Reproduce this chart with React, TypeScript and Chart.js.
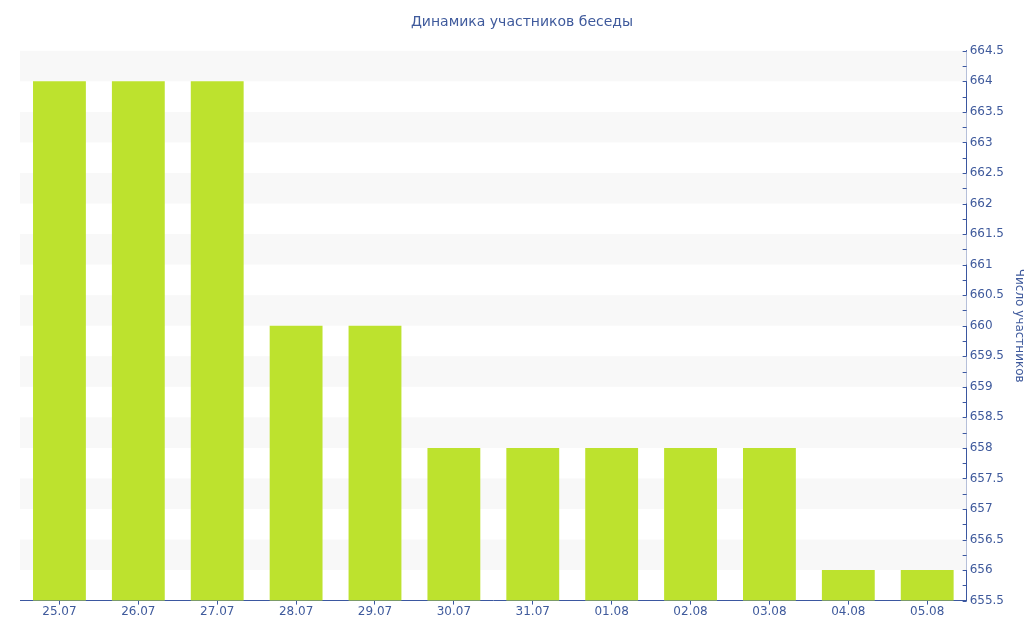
import { useRef, useEffect } from "react";
import { Chart, registerables } from "chart.js";

Chart.register(...registerables);

const dates = ["25.07", "26.07", "27.07", "28.07", "29.07", "30.07", "31.07", "01.08", "02.08", "03.08", "04.08", "05.08"];
const members = [664, 664, 664, 660, 660, 658, 658, 658, 658, 658, 656, 656];

const axisColor = "#3b57a0";
const textColor = "#3f5a9c";
const barColor = "#bde22e";

// alternating grey bands + inner ticks on the y axis
const bandsPlugin = {
  id: "bands",
  beforeDatasetsDraw(chart: any) {
    const { ctx, chartArea } = chart;
    const y = chart.scales.y;
    ctx.save();
    ctx.fillStyle = "#f8f8f8";
    for (let v = 656; v < 665; v += 1) {
      const top = y.getPixelForValue(v + 0.5);
      const bottom = y.getPixelForValue(v);
      ctx.fillRect(chartArea.left, top, chartArea.right - chartArea.left, bottom - top);
    }
    ctx.restore();
  },
  afterDraw(chart: any) {
    const { ctx, chartArea } = chart;
    const y = chart.scales.y;
    ctx.save();
    ctx.strokeStyle = axisColor;
    ctx.lineWidth = 1;
    for (let v = y.min; v <= y.max + 0.01; v += 0.25) {
      const py = Math.round(y.getPixelForValue(v)) + 0.5;
      ctx.beginPath();
      ctx.moveTo(chartArea.right - 4, py);
      ctx.lineTo(chartArea.right, py);
      ctx.stroke();
    }
    ctx.restore();
  },
};

const MembersChart: React.FC = () => {
  const chartRef = useRef<HTMLCanvasElement | null>(null);

  useEffect(() => {
    document.body.style.margin = "0";
    const ctx = chartRef.current?.getContext("2d");
    if (!ctx) return;

    const myChart = new Chart(ctx, {
      type: "bar",
      data: {
        labels: dates,
        datasets: [
          {
            label: "Число участников",
            data: members,
            backgroundColor: barColor,
            borderWidth: 0,
            barPercentage: 0.67,
            categoryPercentage: 1,
          },
        ],
      },
      options: {
        animation: false,
        responsive: false,
        layout: { padding: { left: 20, right: 0, top: 8, bottom: 21 } },
        font: { family: "DejaVu Sans" },
        plugins: {
          legend: { display: false },
          tooltip: { enabled: false },
          title: {
            display: true,
            text: "Динамика участников беседы",
            color: textColor,
            font: { family: "DejaVu Sans", size: 14, weight: "normal" },
            padding: { top: 6, bottom: 20 },
          },
        },
        scales: {
          x: {
            grid: { display: true, drawOnChartArea: false, offset: false, tickLength: 4, color: axisColor },
            border: { color: axisColor },
            ticks: { color: textColor, font: { family: "DejaVu Sans", size: 12 }, padding: 0, maxRotation: 0 },
          },
          y: {
            position: "right",
            min: 655.5,
            max: 664.5,
            grid: { display: true, drawOnChartArea: false, drawTicks: false, color: axisColor },
            border: { color: axisColor },
            ticks: {
              stepSize: 0.5,
              color: textColor,
              font: { family: "DejaVu Sans", size: 12 },
              padding: 3,
              callback: (v: any) => String(Number(v)),
            },
            title: {
              display: true,
              text: "Число участников",
              color: textColor,
              font: { family: "DejaVu Sans", size: 12, lineHeight: 1 },
              padding: { top: -1, bottom: 6 },
            },
          },
        },
      },
      plugins: [bandsPlugin],
    });

    return () => {
      myChart.destroy();
    };
  }, []);

  return <canvas ref={chartRef} width={1024} height={640}></canvas>;
};

export default function App() {
  return (
    <div style={{ width: 1024, height: 640 }}>
      <MembersChart />
    </div>
  );
}
